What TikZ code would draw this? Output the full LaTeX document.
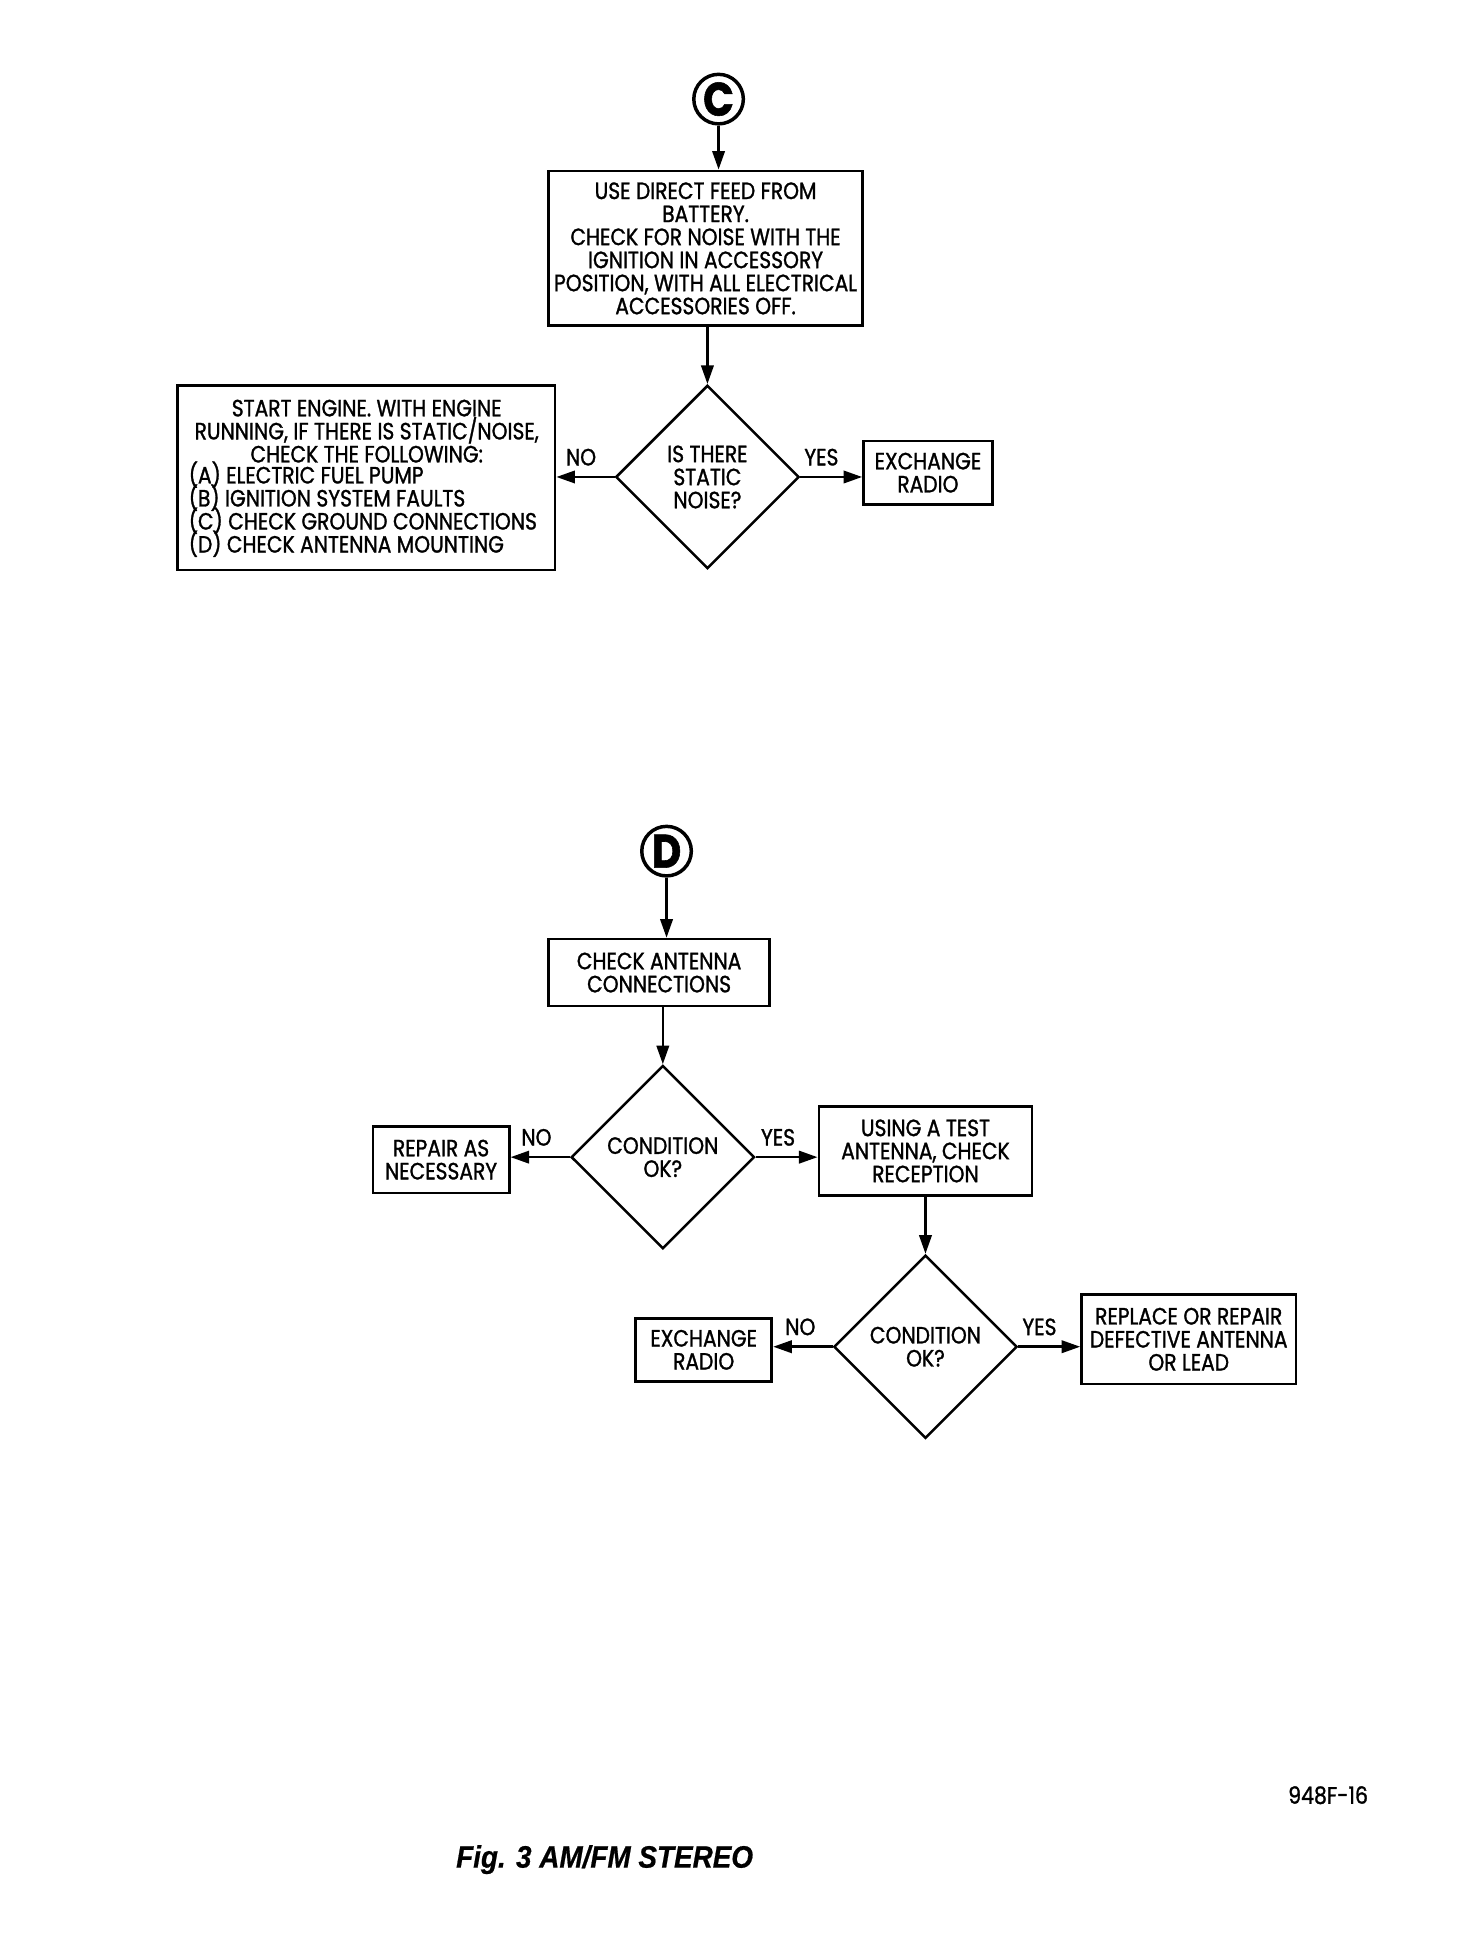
\documentclass[tikz,border=0pt]{standalone}
\usepackage{fontspec}
\setmainfont[FakeStretch=0.86,FakeBold=1.2]{Poppins}
\newfontfamily\capfont[FakeStretch=0.9,FakeBold=0.6]{Liberation Sans}
\newcommand\tightlines{\lineskiplimit=-6pt\relax}
\usetikzlibrary{shapes.geometric,arrows.meta}
\begin{document}
\begin{tikzpicture}[x=0.5pt,y=-0.5pt,
  txt/.style={font=\fontsize{9.5}{9.3}\selectfont\tightlines},
  box/.style={draw, line width=1.1pt, inner sep=0pt, align=center, txt},
  dia/.style={draw, diamond, line width=1pt, inner sep=0pt, align=center, txt, minimum width=74pt, minimum height=74pt},
  circ/.style={draw, circle, line width=1.4pt, inner sep=0pt, minimum size=20pt, font=\fontsize{19}{19}\selectfont\bfseries},
  lbl/.style={inner sep=0pt, txt},
  arr/.style={line width=1pt, -{Triangle[length=7.5pt,width=5pt]}}]
\useasboundingbox (0,0) rectangle (1188,1567.5);

% ---- C section
\node[circ] (C) at (580,80) {C};
\node[box, minimum width=126.5pt, minimum height=62.5pt] (box1) at (569.5,200.5)
  {USE DIRECT FEED FROM\\BATTERY.\\CHECK FOR NOISE WITH THE\\IGNITION IN ACCESSORY\\POSITION, WITH ALL ELECTRICAL\\ACCESSORIES OFF.};
\node[dia] (dia1) at (571,385) {IS THERE\\STATIC\\NOISE?};
\node[draw, line width=1.1pt, inner sep=0pt, minimum width=152.5pt, minimum height=74.5pt] (left) at (295.5,385.5) {};
\node[lbl, align=center] (lefttop) at (296,348)
  {START ENGINE. WITH ENGINE\\RUNNING, IF THERE IS STATIC/NOISE,\\CHECK THE FOLLOWING:};
\node[lbl, align=left, anchor=west] (leftlist) at (152,411)
  {(A) ELECTRIC FUEL PUMP\\(B) IGNITION SYSTEM FAULTS\\(C) CHECK GROUND CONNECTIONS\\(D) CHECK ANTENNA MOUNTING};
\node[box, minimum width=52pt, minimum height=25.5pt] (exch1) at (749,381.5) {EXCHANGE\\RADIO};
\node[lbl] (no1) at (469,369) {NO};
\node[lbl] (yes1) at (663,369) {YES};

\draw[arr] (C.south) -- (C.south |- box1.north);
\draw[arr] (dia1.north |- box1.south) -- (dia1.north);
\draw[arr] (dia1.west) -- (left.east |- dia1.west);
\draw[arr] (dia1.east) -- (exch1.west |- dia1.east);

% ---- D section
\node[circ] (D) at (538,687) {D};
\node[box, minimum width=89pt, minimum height=27pt] (box2) at (532,785) {CHECK ANTENNA\\CONNECTIONS};
\node[dia] (dia2) at (535,934) {CONDITION\\OK?};
\node[box, minimum width=55pt, minimum height=27pt] (repair) at (356,936) {REPAIR AS\\NECESSARY};
\node[box, minimum width=86pt, minimum height=36pt] (test) at (747,929) {USING A TEST\\ANTENNA, CHECK\\RECEPTION};
\node[dia] (dia3) at (747,1087) {CONDITION\\OK?};
\node[box, minimum width=55pt, minimum height=25.5pt] (exch2) at (568,1089.5) {EXCHANGE\\RADIO};
\node[box, minimum width=86.5pt, minimum height=36pt] (replace) at (959.5,1081) {REPLACE OR REPAIR\\DEFECTIVE ANTENNA\\OR LEAD};
\node[lbl] (no2) at (433,918) {NO};
\node[lbl] (yes2) at (628,918) {YES};
\node[lbl] (no3) at (646,1071) {NO};
\node[lbl] (yes3) at (839,1071) {YES};

\draw[arr] (D.south) -- (D.south |- box2.north);
\draw[arr] (dia2.north |- box2.south) -- (dia2.north);
\draw[arr] (dia2.west) -- (repair.east |- dia2.west);
\draw[arr] (dia2.east) -- (test.west |- dia2.east);
\draw[arr] (dia3.north |- test.south) -- (dia3.north);
\draw[arr] (dia3.west) -- (exch2.east |- dia3.west);
\draw[arr] (dia3.east) -- (replace.west |- dia3.east);

% ---- footer
\node[lbl, font=\fontsize{9.6}{10}\selectfont] (code) at (1072,1449) {948F-16};
\node[inner sep=0pt, font=\capfont\fontsize{12.5}{13}\selectfont\bfseries\itshape] (cap) at (488,1501) {Fig. 3 AM/FM STEREO};
\end{tikzpicture}
\end{document}
